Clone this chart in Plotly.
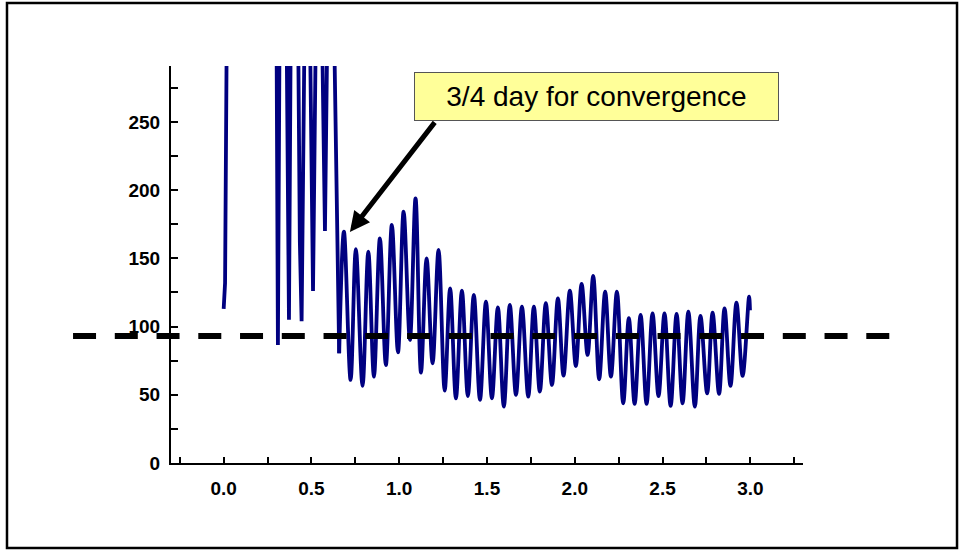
import plotly.graph_objects as go

# ---- data ----
# early (unstable) phase: dips visible, peaks run off the top of the chart
early_t = [0.000, 0.008, 0.035, 0.150, 0.290, 0.309, 0.334, 0.372, 0.400, 0.434, 0.444,
           0.475, 0.509, 0.540, 0.577, 0.607, 0.640, 0.658]
early_v = [113, 132, 650, 900, 650, 86.5, 700, 105, 700, 162, 104,
           500, 126, 500, 170, 500, 217, 80.4]

# converged phase: successive extremes of the oscillation
late_t = [0.658, 0.685, 0.723, 0.753, 0.791, 0.824, 0.856, 0.890, 0.924, 0.958, 0.993,
          1.025, 1.061, 1.093, 1.124, 1.156, 1.190, 1.224, 1.259, 1.290, 1.323, 1.357,
          1.391, 1.425, 1.460, 1.494, 1.528, 1.562, 1.596, 1.630, 1.665, 1.699, 1.735,
          1.767, 1.801, 1.835, 1.870, 1.904, 1.936, 1.972, 2.006, 2.039, 2.073, 2.105,
          2.139, 2.173, 2.206, 2.240, 2.276, 2.308, 2.341, 2.375, 2.409, 2.443, 2.477,
          2.511, 2.546, 2.580, 2.614, 2.647, 2.684, 2.716, 2.754, 2.785, 2.822, 2.853,
          2.887, 2.921, 2.956, 2.993, 2.998]
late_v = [80.4, 169.6, 60.9, 156.7, 56.5, 155, 63.3, 164.7, 71.8, 174.5, 81.1,
          184.2, 90.2, 194, 66.2, 150, 73.1, 156.2, 53, 128, 47.4, 126.3,
          49.1, 123.2, 46.2, 118.3, 47.4, 114.1, 41.3, 115.8, 49.9, 114.6, 48.6,
          114.6, 52.3, 117.1, 57.2, 120.7, 64, 126.3, 71.1, 131.2, 79.2, 137.1,
          61.4, 125.6, 63.3, 125.6, 43.8, 106.1, 43.3, 108.5, 43.3, 109.7, 49.1,
          109.7, 41.8, 109.2, 43.8, 111, 41.3, 107.8, 51.1, 110.2, 50.6, 113.4,
          56.5, 117.5, 63.8, 121.9, 112]

reference_level = 93
annotation_text = "3/4 day for convergence"
arrow_t, arrow_v = 0.719, 169.4
label_t, label_v = 2.123, 268.6

y_ticks = [0, 50, 100, 150, 200, 250]

LINE = "#000080"
FONT = "Liberation Sans, Arial, sans-serif"

fig = go.Figure()
fig.add_trace(go.Scatter(x=early_t, y=early_v, mode="lines",
                         line=dict(color=LINE, width=3.8), hoverinfo="skip"))
fig.add_trace(go.Scatter(x=late_t, y=late_v, mode="lines",
                         line=dict(color=LINE, width=3.8, shape="spline", smoothing=1.0),
                         hoverinfo="skip"))

# outer frame
fig.add_shape(type="rect", xref="paper", yref="paper",
              x0=-0.2595, x1=1.2437, y0=-0.2141, y1=1.1587,
              line=dict(color="black", width=2.5), layer="above")
# dashed reference line (extends beyond axes)
fig.add_shape(type="line", xref="paper", yref="y",
              x0=-0.155, x1=1.1456, y0=reference_level, y1=reference_level,
              line=dict(color="black", width=6, dash="23px,18.75px"), layer="above")

# arrow
fig.add_annotation(x=arrow_t, y=arrow_v, xref="x", yref="y", text="",
                   showarrow=True, ax=86, ay=-111, arrowhead=2, arrowsize=0.8,
                   arrowwidth=5, arrowcolor="black")
# label box
fig.add_annotation(x=label_t, y=label_v, xref="x", yref="y", text=annotation_text,
                   showarrow=False, font=dict(family=FONT, size=28, color="black"),
                   bgcolor="#FFFF99", bordercolor="#555555", borderwidth=1,
                   borderpad=6, width=351, height=35)

fig.update_layout(
    width=960, height=552, autosize=False,
    margin=dict(l=171, r=157, t=66, b=89),
    paper_bgcolor="white", plot_bgcolor="white",
    showlegend=False,
    font=dict(family=FONT, color="black"),
)
fig.update_xaxes(range=[-0.3, 3.3], tickmode="linear", tick0=0, dtick=0.5,
                 tickformat=".1f", showgrid=False, zeroline=False,
                 showline=True, linecolor="black", linewidth=2,
                 ticks="inside", ticklen=6, tickwidth=1.5, tickcolor="black",
                 minor=dict(dtick=0.25, tick0=0, ticks="inside", ticklen=6,
                            tickwidth=1.5, tickcolor="black"),
                 tickfont=dict(family=FONT, size=19, color="black", weight="bold"),
                 ticklabelstandoff=7)
fig.update_yaxes(range=[0, 291], tickmode="array", tickvals=y_ticks,
                 showgrid=False, zeroline=False,
                 showline=True, linecolor="black", linewidth=2,
                 ticks="inside", ticklen=7, tickwidth=1.5, tickcolor="black",
                 minor=dict(dtick=25, tick0=0, ticks="inside", ticklen=7,
                            tickwidth=1.5, tickcolor="black"),
                 tickfont=dict(family=FONT, size=19, color="black", weight="bold"),
                 ticklabelstandoff=5)

fig.write_html("out.html",
               config={"displayModeBar": False},
               post_script="document.body.style.margin='0';document.body.style.overflow='hidden';")
